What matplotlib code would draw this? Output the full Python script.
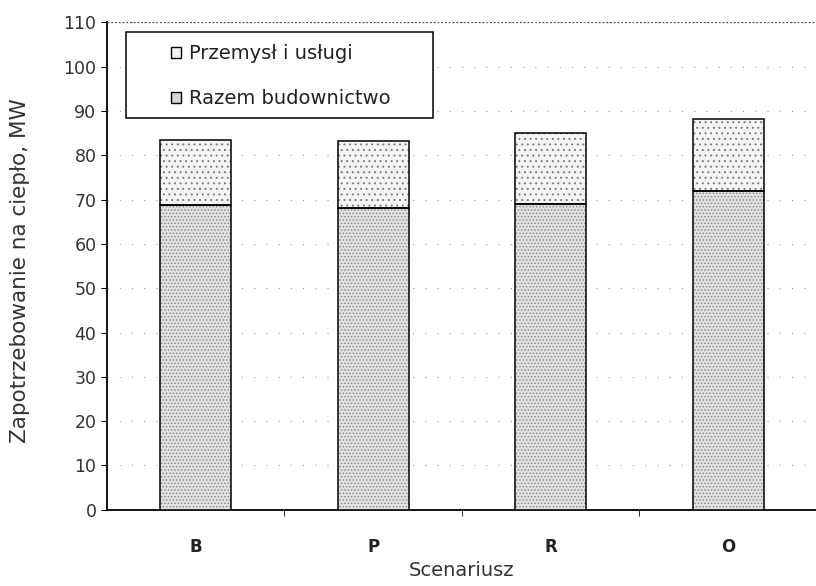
import numpy as np
import matplotlib
matplotlib.use("Agg")
import matplotlib.pyplot as plt
from matplotlib.patches import Patch, Rectangle

plt.rcParams['font.family'] = ['DejaVu Sans']
plt.rcParams['hatch.linewidth'] = 0.7

scenarios = ['B', 'P', 'R', 'O']
budownictwo = [68.8, 68.0, 69.1, 72.0]
przemysl = [14.7, 15.3, 15.9, 16.2]

fig = plt.figure(figsize=(8.16, 5.86), dpi=100)
ax = fig.add_axes([0.131, 0.13, 0.87, 0.832])

x = np.arange(len(scenarios))

# stipple fill (hatch takes the edge colour), then black outline on top
ax.bar(x, budownictwo, width=0.4, color='#e2e2e2', edgecolor='#8c8c8c', linewidth=0,
       hatch='.....', zorder=3)
ax.bar(x, przemysl, width=0.4, bottom=budownictwo, color='#f4f4f4', edgecolor='#7a7a7a',
       linewidth=0, hatch='...', zorder=3)
ax.bar(x, budownictwo, width=0.4, fill=False, edgecolor='black', linewidth=1.1, zorder=4)
ax.bar(x, przemysl, width=0.4, bottom=budownictwo, fill=False, edgecolor='black',
       linewidth=1.1, zorder=4)

ax.set_xlim(-0.5, 3.5)
ax.set_ylim(0, 110)
ax.set_yticks(range(0, 111, 10))
ax.set_xticks(x)
ax.set_xticklabels(scenarios, fontweight='bold', fontsize=12, color='#222222')
ax.set_xticks(np.arange(0.5, 3.5, 1), minor=True)
ax.tick_params(axis='x', which='major', length=0, pad=20)
ax.tick_params(axis='x', which='minor', length=4, direction='out')
ax.tick_params(axis='y', length=4, labelsize=12.5, labelcolor='#333333')

ax.grid(axis='y', color='#999999', linestyle=(0, (1, 10)), linewidth=0.8, zorder=0)
ax.axhline(110, color='#444444', linestyle=(0, (1.5, 1.5)), linewidth=0.9, zorder=1)
ax.spines['top'].set_visible(False)
ax.spines['right'].set_visible(False)
ax.spines['left'].set_linewidth(1.3)
ax.spines['bottom'].set_linewidth(1.3)

ax.set_xlabel('Scenariusz', fontsize=14, color='#333333')
ax.set_ylabel('Zapotrzebowanie na ciepło, MW', fontsize=15.5, color='#333333')
ax.yaxis.set_label_coords(-0.108, 0.49)
ax.xaxis.set_label_coords(0.5, -0.105)

# legend frame drawn separately so the entries sit centred in a wide box
ax.add_patch(Rectangle((0.027, 0.804), 0.432, 0.176, transform=ax.transAxes,
                       facecolor='white', edgecolor='black', linewidth=1.1, zorder=5))
handles = [Patch(facecolor='#f4f4f4', edgecolor='black', linewidth=1.0),
           Patch(facecolor='#d6d6d6', edgecolor='black', linewidth=1.0)]
labels = ['Przemysł i usługi', 'Razem budownictwo']
leg = ax.legend(handles, labels, loc='upper left', bbox_to_anchor=(0.09, 0.955),
                fontsize=14, frameon=False, handlelength=0.5, handleheight=0.5,
                handletextpad=0.45, labelspacing=1.35, borderpad=0, borderaxespad=0)
leg.set_zorder(6)
for t in leg.get_texts():
    t.set_color('#222222')

fig.savefig('out.png', dpi=100)
